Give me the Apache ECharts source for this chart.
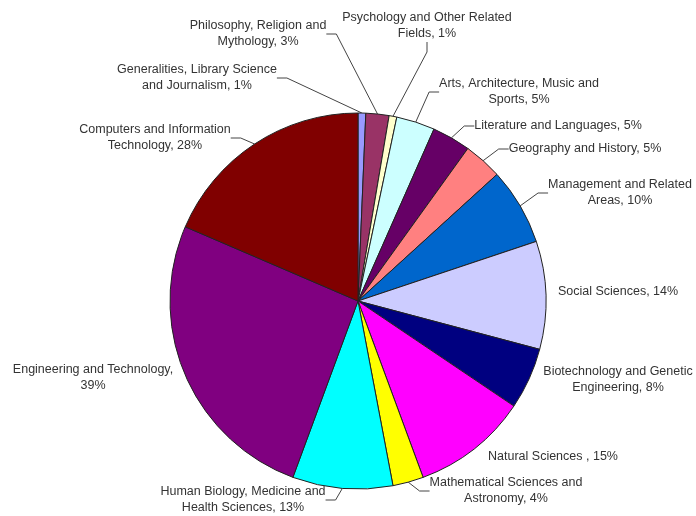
<!DOCTYPE html>
<html>
<head>
<meta charset="utf-8">
<script src="https://cdn.jsdelivr.net/npm/echarts@6/dist/echarts.min.js"></script>
<style>
  html, body { margin: 0; padding: 0; background: #fff; }
  #main { width: 696px; height: 516px; }
</style>
</head>
<body>
<div id="main"></div>
<script>
// subject areas, clockwise from the top
var categories = [
    'Generalities, Library Science\nand Journalism'
    , 'Philosophy, Religion and\nMythology'
    , 'Psychology and Other Related\nFields'
    , 'Arts, Architecture, Music and\nSports'
    , 'Literature and Languages'
    , 'Geography and History'
    , 'Management and Related\nAreas'
    , 'Social Sciences'
    , 'Biotechnology and Genetic\nEngineering'
    , 'Natural Sciences '
    , 'Mathematical Sciences and\nAstronomy'
    , 'Human Biology, Medicine and\nHealth Sciences'
    , 'Engineering and Technology'
    , 'Computers and Information\nTechnology'
];
var values = [1, 3, 1, 5, 5, 5, 10, 14, 8, 15, 4, 13, 39, 28];
var valueSep = [', ', ', ', ', ', ', ', ', ', ', ', ', ', ', ', ', ', ', ', ', ', ', ', ',\n', ', '];

// old excel fill palette
var colors = ['#9999ff', '#993366', '#ffffcc', '#ccffff', '#660066', '#ff8080', '#0066cc',
    '#ccccff', '#000080', '#ff00ff', '#ffff00', '#00ffff', '#800080', '#800000'];

// where each label sits (text centre) and whether it has a leader line
var labelSpots = [
    [197, 78], [258, 34], [427, 26], [519, 92], [558, 126], [585, 149], [620, 193],
    [618, 292], [618, 380], [553, 457], [506, 491], [243, 500], [93, 378], [155, 138]
];
var noLine = [7, 8, 9, 12];

var chart = echarts.init(document.getElementById('main'));

var pieData = [];
for (var i = 0; i < values.length; i++) {
    pieData.push({
        name: categories[i]
        , value: values[i]
        , itemStyle: { color: colors[i] }
        , labelLine: { show: noLine.indexOf(i) < 0 }
    });
}

var option = {
    backgroundColor: '#fff'
    , animation: false
    , series: [{
        type: 'pie'
        , center: [358, 301]
        , radius: 188
        , startAngle: 90
        , clockwise: true
        , data: pieData
        , itemStyle: { borderColor: '#222', borderWidth: 1 }
        , label: {
            show: true
            , position: 'outside'
            , overflow: 'none'
            , fontFamily: 'Liberation Sans, Arial, sans-serif'
            , fontSize: 12.5
            , lineHeight: 16
            , color: '#333'
            , align: 'center'
            , formatter: function (p) {
                return p.name + valueSep[p.dataIndex] + p.value + '%';
            }
        }
        , labelLine: {
            length: 10
            , length2: 10
            , lineStyle: { color: '#444', width: 1 }
        }
        , labelLayout: function (params) {
            var s = labelSpots[params.dataIndex];
            return { x: s[0], y: s[1], align: 'center', verticalAlign: 'middle', hideOverlap: false, moveOverlap: null };
        }
    }]
};

chart.setOption(option);
</script>
</body>
</html>
